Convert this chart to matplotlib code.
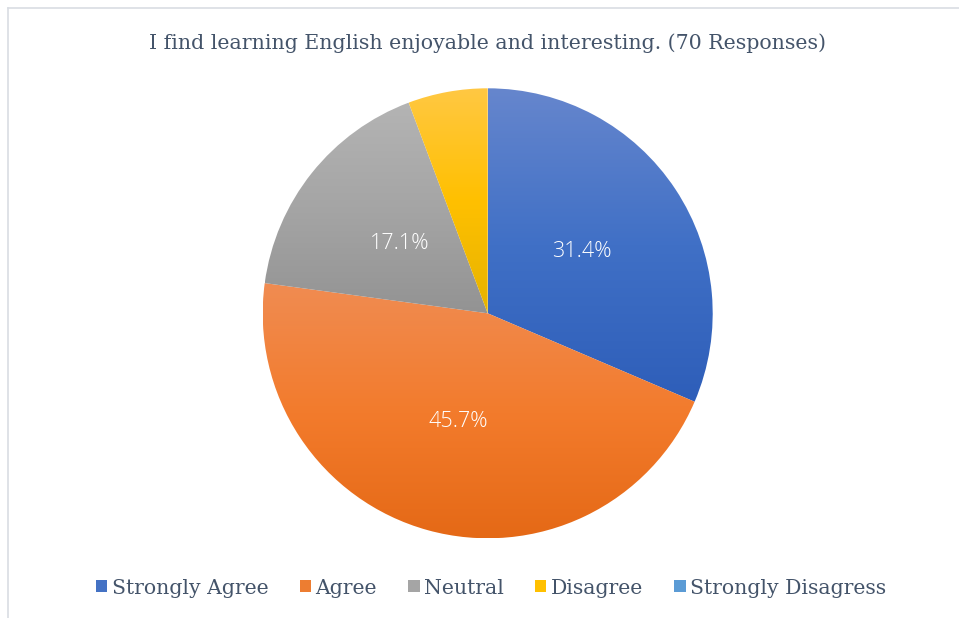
import numpy as np
import matplotlib
matplotlib.use("Agg")
import matplotlib.pyplot as plt
from matplotlib.colors import LinearSegmentedColormap
from matplotlib.patches import Patch
from matplotlib.lines import Line2D

title = "I find learning English enjoyable and interesting. (70 Responses)"
categories = ["Strongly Agree", "Agree", "Neutral", "Disagree", "Strongly Disagress"]
counts = [22, 32, 12, 4, 0]

base_colors = ["#4472c4", "#ed7d31", "#a5a5a5", "#ffc000", "#5b9bd5"]
grad_colors = [
    ("#6686cd", "#4070c6", "#2e5eb9"),
    ("#f08c52", "#f37b2c", "#e46815"),
    ("#b4b4b4", "#a5a5a5", "#939393"),
    ("#ffc843", "#ffc000", "#e6b300"),
    ("#7aaede", "#5b9bd5", "#3f84c4"),
]
text_color = "#44546a"

W, H = 959, 618
fig = plt.figure(figsize=(W / 100, H / 100), dpi=100)
fig.patch.set_facecolor("white")

# border lines (frame of the chart area)
fig.add_artist(Line2D([8 / W, 1], [1 - 8 / H, 1 - 8 / H], color="#d9dde3", lw=1.2))
fig.add_artist(Line2D([8 / W, 8 / W], [0, 1 - 8 / H], color="#d9dde3", lw=1.2))

cx, cy, r = 487.7, 313.3, 225
ax = fig.add_axes([(cx - r) / W, (H - cy - r) / H, 2 * r / W, 2 * r / H])
ax.set_axis_off()

def fmt(p):
    return f"{p:.1f}%" if p >= 10 else ""

wedges, texts, autotexts = ax.pie(
    counts, startangle=90, counterclock=False, radius=1,
    autopct=fmt, pctdistance=0.5,
    textprops=dict(color="white", fontsize=15.5, family="Open Sans", weight="light"),
    wedgeprops=dict(linewidth=0),
)

for w, gc in zip(wedges, grad_colors):
    v = w.get_path().vertices
    if len(v) == 0:
        continue
    xmin, xmax = v[:, 0].min(), v[:, 0].max()
    ymin, ymax = v[:, 1].min(), v[:, 1].max()
    if xmax - xmin < 1e-6:
        continue
    cmap = LinearSegmentedColormap.from_list("g", list(gc))
    grad = np.linspace(0, 1, 256).reshape(-1, 1)
    im = ax.imshow(grad, cmap=cmap, extent=[xmin, xmax, ymin, ymax],
                   origin="upper", aspect="auto", zorder=1, interpolation="bilinear")
    im.set_clip_path(w)
    w.set_facecolor("none")

for t in autotexts:
    t.set_zorder(5)

ax.set_xlim(-1, 1)
ax.set_ylim(-1, 1)
ax.set_aspect("equal")

fig.text(487 / W, 1 - 43 / H, title, ha="center", va="center",
         fontsize=14.8, family="DejaVu Serif", color=text_color)

handles = [Patch(facecolor=c, edgecolor="none") for c in base_colors]
leg = fig.legend(handles, categories, loc="center", bbox_to_anchor=(491 / W, 1 - 588 / H),
                 ncol=5, frameon=False, handlelength=0.55, handleheight=0.55,
                 handletextpad=0.2, columnspacing=1.55,
                 prop=dict(family="DejaVu Serif", size=14.7))
for t in leg.get_texts():
    t.set_color(text_color)

fig.savefig("out.png", dpi=100)
